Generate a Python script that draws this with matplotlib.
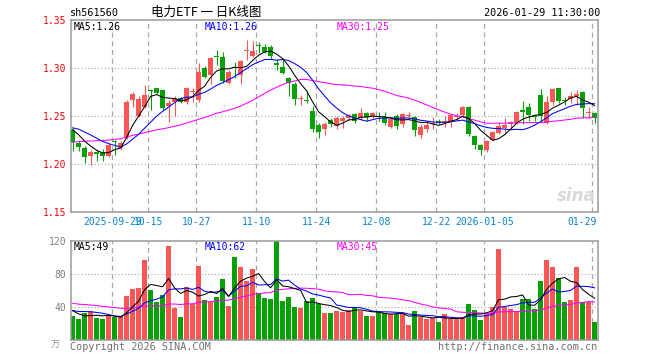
import matplotlib
matplotlib.use("Agg")
import matplotlib.pyplot as plt
import numpy as np
import pandas as pd

# daily K of sh561560, 2025-09-18 .. 2026-01-29 (88 trading days)
opens = [1.236, 1.222, 1.217, 1.209, 1.213, 1.213, 1.209, 1.224, 1.217, 1.228,
         1.267, 1.250, 1.260, 1.277, 1.279, 1.277, 1.261, 1.265, 1.269, 1.265,
         1.275, 1.267, 1.300, 1.293, 1.313, 1.312, 1.285, 1.301, 1.293, 1.318,
         1.313, 1.324, 1.322, 1.322, 1.306, 1.301, 1.290, 1.284, 1.268, 1.267,
         1.256, 1.241, 1.237, 1.246, 1.240, 1.245, 1.248, 1.252, 1.248, 1.253,
         1.250, 1.250, 1.249, 1.239, 1.250, 1.242, 1.250, 1.249, 1.231, 1.237,
         1.242, 1.245, 1.244, 1.244, 1.249, 1.251, 1.260, 1.230, 1.220, 1.215,
         1.225, 1.233, 1.238, 1.242, 1.243, 1.257, 1.260, 1.251, 1.272, 1.243,
         1.265, 1.279, 1.267, 1.268, 1.271, 1.275, 1.253, 1.253]
highs = [1.238, 1.224, 1.219, 1.215, 1.215, 1.216, 1.222, 1.225, 1.224, 1.267,
         1.275, 1.271, 1.283, 1.278, 1.280, 1.278, 1.267, 1.271, 1.270, 1.281,
         1.279, 1.306, 1.302, 1.312, 1.319, 1.317, 1.298, 1.307, 1.309, 1.330,
         1.328, 1.327, 1.325, 1.324, 1.310, 1.309, 1.291, 1.286, 1.272, 1.276,
         1.261, 1.243, 1.244, 1.248, 1.250, 1.250, 1.252, 1.253, 1.259, 1.255,
         1.254, 1.255, 1.255, 1.248, 1.252, 1.253, 1.255, 1.250, 1.242, 1.245,
         1.249, 1.247, 1.250, 1.252, 1.253, 1.261, 1.261, 1.231, 1.221, 1.225,
         1.235, 1.244, 1.248, 1.245, 1.256, 1.266, 1.264, 1.252, 1.278, 1.271,
         1.279, 1.280, 1.270, 1.275, 1.277, 1.276, 1.260, 1.254]
lows = [1.214, 1.214, 1.201, 1.199, 1.203, 1.203, 1.208, 1.210, 1.215, 1.226,
        1.260, 1.249, 1.259, 1.257, 1.273, 1.257, 1.244, 1.250, 1.264, 1.263,
        1.265, 1.265, 1.290, 1.284, 1.303, 1.285, 1.284, 1.290, 1.284, 1.309,
        1.312, 1.316, 1.316, 1.310, 1.298, 1.294, 1.271, 1.262, 1.262, 1.264,
        1.234, 1.227, 1.231, 1.239, 1.237, 1.238, 1.246, 1.243, 1.246, 1.245,
        1.248, 1.245, 1.241, 1.238, 1.237, 1.239, 1.247, 1.230, 1.227, 1.234,
        1.237, 1.242, 1.239, 1.239, 1.246, 1.249, 1.230, 1.216, 1.210, 1.213,
        1.224, 1.232, 1.233, 1.237, 1.242, 1.242, 1.245, 1.245, 1.245, 1.242,
        1.262, 1.264, 1.262, 1.264, 1.262, 1.248, 1.248, 1.243]
closes = [1.223, 1.218, 1.208, 1.213, 1.211, 1.209, 1.220, 1.223, 1.222, 1.265,
          1.273, 1.268, 1.272, 1.276, 1.274, 1.259, 1.264, 1.269, 1.265, 1.279,
          1.276, 1.296, 1.291, 1.311, 1.312, 1.287, 1.296, 1.300, 1.308, 1.319,
          1.318, 1.323, 1.317, 1.313, 1.303, 1.295, 1.285, 1.268, 1.269, 1.266,
          1.237, 1.234, 1.242, 1.242, 1.248, 1.248, 1.251, 1.245, 1.253, 1.249,
          1.253, 1.249, 1.243, 1.247, 1.240, 1.252, 1.251, 1.236, 1.239, 1.241,
          1.243, 1.244, 1.245, 1.251, 1.250, 1.260, 1.232, 1.220, 1.215, 1.224,
          1.234, 1.240, 1.241, 1.244, 1.255, 1.255, 1.251, 1.249, 1.250, 1.265,
          1.278, 1.266, 1.266, 1.271, 1.273, 1.259, 1.255, 1.248]
# volume, 万手
volumes = [29.1, 25.5, 32.3, 35.5, 27.0, 25.5, 29.0, 27.5, 29.0, 53.3,
           61.8, 63.4, 97.0, 60.6, 46.4, 54.5, 113.0, 39.2, 28.3, 64.6,
           43.6, 90.0, 48.5, 46.4, 52.5, 74.0, 41.6, 99.8, 87.7, 70.7,
           86.0, 57.3, 51.3, 49.3, 121.0, 47.6, 52.5, 40.4, 38.4, 47.3,
           51.3, 43.2, 33.1, 33.1, 35.5, 34.4, 36.4, 40.4, 35.5, 29.0,
           29.0, 35.1, 32.3, 31.1, 31.1, 31.5, 18.2, 35.1, 28.3, 25.5,
           26.3, 22.2, 31.5, 25.0, 25.0, 27.5, 43.6, 36.4, 24.2, 32.3,
           40.4, 110.3, 39.6, 37.6, 35.1, 49.7, 49.7, 37.6, 71.5, 97.0,
           88.1, 74.8, 46.4, 48.5, 88.8, 46.4, 46.4, 22.2]

# days before the window, only feed the moving averages (estimated from
# where the MA lines start at the left edge)
closes_before = [1.198, 1.200, 1.203, 1.201, 1.205, 1.204, 1.203, 1.205,
                 1.212, 1.218, 1.225, 1.230, 1.228, 1.232, 1.229, 1.226, 1.227,
                 1.220, 1.219, 1.225,
                 1.232, 1.238, 1.243, 1.245, 1.242,
                 1.244, 1.241, 1.239, 1.233]
volumes_before = [58, 46, 52, 49, 55, 47, 53, 51.4,
                  54, 48, 50, 52, 47, 53, 49,
                  45, 40, 44, 42.6, 41,
                  36, 33, 38, 35.6, 35,
                  45, 44.4, 34, 25]

tick_pos = [7, 13, 21, 31, 41, 51, 61, 69, 87]
tick_labels = ["2025-09-29", "10-15", "10-27", "11-10", "11-24",
               "12-08", "12-22", "2026-01-05", "01-29"]
price_ticks = [1.15, 1.20, 1.25, 1.30, 1.35]
vol_ticks = [40, 80, 120]

RED = "#fa5656"
GREEN = "#07a107"
GRID = "#a8a8a8"
SPINE = "#9a9a9a"
XBLUE = "#0a84d6"
MONO = "DejaVu Sans Mono"
CJK = ["Noto Sans CJK SC", "DejaVu Sans"]

W, H = 660, 360


def px(x, y):
    return x / W, 1 - y / H


o = np.array(opens)
c = np.array(closes)
hi = np.array(highs)
lo = np.array(lows)
v = np.array(volumes)
x = np.arange(len(c))
colors = np.where(c >= o, RED, GREEN)

nb = len(closes_before)
close_all = pd.Series(closes_before + closes)
vol_all = pd.Series(volumes_before + volumes)
ma = {k: close_all.rolling(k).mean().to_numpy()[nb:] for k in (5, 10, 30)}
vma = {k: vol_all.rolling(k).mean().to_numpy()[nb:] for k in (5, 10, 30)}
ma_colors = {5: "black", 10: "#0000ff", 30: "#ff00ff"}

fig = plt.figure(figsize=(W / 100, H / 100), dpi=100)
ax = fig.add_axes([70.7 / W, 1 - 212.3 / H, 527.3 / W, 192.0 / H])
axv = fig.add_axes([70.7 / W, 1 - 340.0 / H, 527.3 / W, 99.3 / H])

for a in (ax, axv):
    a.set_xlim(-0.32, 87.57)
    for s in a.spines.values():
        s.set_color(SPINE)
        s.set_linewidth(1.1)
    for p in tick_pos:
        a.axvline(p - 0.4, color=GRID, lw=0.9, ls=(0, (4, 3)), zorder=0)
    a.set_xticks([])
    a.tick_params(axis="y", length=0, pad=3)

# price panel
ax.set_ylim(1.15, 1.35)
ax.set_yticks(price_ticks)
ax.set_yticklabels([f"{t:.2f}" for t in price_ticks], color="red",
                   fontfamily=MONO, fontsize=7)
for t in price_ticks[1:-1]:
    ax.axhline(t, color=GRID, lw=0.8, ls=(0, (1, 2)), zorder=0)

ax.vlines(x, lo, hi, colors=colors, lw=0.8, zorder=2)
ax.bar(x, np.maximum(np.abs(c - o), 0.0011), bottom=np.minimum(o, c),
       width=0.8, color=colors, linewidth=0, zorder=3)
for k in (30, 10, 5):
    ax.plot(x, ma[k], color=ma_colors[k], lw=0.75, zorder=4)

ax.text(0.006, 0.965, "MA5:1.26", transform=ax.transAxes, fontfamily=MONO,
        fontsize=7, color="black", va="center")
ax.text(0.254, 0.965, "MA10:1.26", transform=ax.transAxes, fontfamily=MONO,
        fontsize=7, color="#0000ff", va="center")
ax.text(0.504, 0.965, "MA30:1.25", transform=ax.transAxes, fontfamily=MONO,
        fontsize=7, color="#ff00ff", va="center")
ax.text(0.995, 0.04, "sina", transform=ax.transAxes, fontsize=12,
        fontweight="bold", style="italic", color="#d9d9d9", ha="right",
        va="bottom", zorder=1)

xt = ax.get_xaxis_transform()
for p, lab in zip(tick_pos, tick_labels):
    if p == tick_pos[-1]:
        ax.text(87.4, -0.049, lab, transform=xt, ha="right", va="center",
                fontfamily=MONO, fontsize=7, color=XBLUE, clip_on=False)
    else:
        ax.text(p - 0.4, -0.049, lab, transform=xt, ha="center", va="center",
                fontfamily=MONO, fontsize=7, color=XBLUE, clip_on=False)

# volume panel
axv.set_ylim(0, 120)
axv.set_yticks(vol_ticks)
axv.set_yticklabels([str(t) for t in vol_ticks], color="#808080",
                    fontfamily=MONO, fontsize=7)
for t in vol_ticks[:-1]:
    axv.axhline(t, color=GRID, lw=0.8, ls=(0, (1, 2)), zorder=0)
axv.bar(x, v, width=0.8, color=colors, linewidth=0, zorder=2)
for k in (30, 10, 5):
    axv.plot(x, vma[k], color=ma_colors[k], lw=0.75, zorder=4)

axv.text(0.006, 0.94, "MA5:49", transform=axv.transAxes, fontfamily=MONO,
         fontsize=7, color="black", va="center")
axv.text(0.254, 0.94, "MA10:62", transform=axv.transAxes, fontfamily=MONO,
         fontsize=7, color="#0000ff", va="center")
axv.text(0.504, 0.94, "MA30:45", transform=axv.transAxes, fontfamily=MONO,
         fontsize=7, color="#ff00ff", va="center")

# header and footer
fig.text(*px(69.5, 12.5), "sh561560", fontfamily=MONO, fontsize=7.3,
         va="center", ha="left")
fig.text(*px(151, 12.5), "电力ETF 一 日K线图", family=CJK, fontsize=9,
         va="center", ha="left")
fig.text(*px(600, 12.5), "2026-01-29 11:30:00", fontfamily=MONO,
         fontsize=7.3, va="center", ha="right")
fig.text(*px(60, 345), "万", family=CJK, fontsize=6.5, color="#909090",
         va="center", ha="right")
fig.text(*px(70, 347), "Copyright 2026 SINA.COM", fontfamily=MONO,
         fontsize=7.3, color="#707070", va="center", ha="left")
fig.text(*px(597.5, 347), "http://finance.sina.com.cn", fontfamily=MONO,
         fontsize=7.3, color="#707070", va="center", ha="right")

fig.savefig("out.png", dpi=100)
